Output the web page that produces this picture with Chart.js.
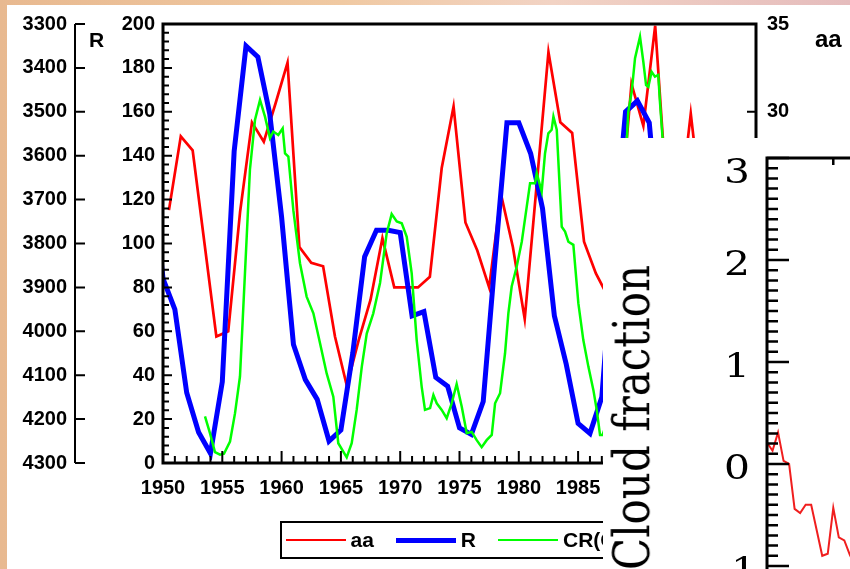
<!DOCTYPE html>
<html>
<head>
<meta charset="utf-8">
<title>aa, R and cosmic rays with cloud fraction</title>
<script src="https://cdn.jsdelivr.net/npm/chart.js"></script>
<style>
  html, body { margin: 0; padding: 0; }
  body {
    width: 850px; height: 569px; overflow: hidden; position: relative;
    background: linear-gradient(90deg, #e8b990 0%, #f0c9a2 40%, #f2d3c4 65%, #e5bcbd 100%);
  }
  #panel { position: absolute; left: 7px; top: 5px; width: 843px; height: 564px; background: #fff; }
  #main { position: absolute; left: 0; top: 0; }
  .title { position: absolute; font-family: "Liberation Sans", Arial, sans-serif; font-weight: bold; color: #000; white-space: nowrap; }
  #rTitle { left: 82px; top: 24px; font-size: 21px; line-height: 21px; }
  #aaTitle { left: 808px; top: 22px; font-size: 24px; line-height: 24px; }
  #legend {
    position: absolute; left: 273px; top: 516px; width: 356px; height: 34px;
    border: 2.5px solid #000; display: flex; align-items: center; padding-left: 3.5px;
    font: bold 21px "Liberation Sans", Arial, sans-serif; white-space: nowrap;
  }
  #legend .item { display: flex; align-items: center; margin-right: 22px; }
  #legend .swatch { width: 60px; margin-right: 5px; }
  #overlay { position: absolute; left: 603px; top: 138px; width: 247px; height: 431px; background: #fff; overflow: hidden; }
  #cloud { position: absolute; left: 0; top: 0; }
  #cloudTitle {
    position: absolute; left: 4.4px; top: 432px; transform-origin: 0 0;
    transform: rotate(-90deg) scaleY(1.2);
    font: 42px "DejaVu Serif", serif; line-height: 42px; white-space: nowrap; color: #000;
  }
</style>
</head>
<body>
<div id="panel">
  <canvas id="main" width="843" height="564"></canvas>
  <div id="rTitle" class="title">R</div>
  <div id="aaTitle" class="title">aa</div>
  <div id="legend"></div>
</div>
<div id="overlay">
  <canvas id="cloud" width="407" height="482"></canvas>
  <div id="cloudTitle">Cloud fraction</div>
</div>
<script>
// sunspot number R, yearly
const rYears = [1949, 1950, 1951, 1952, 1953, 1954, 1955, 1956, 1957, 1958, 1959, 1960, 1961, 1962, 1963, 1964, 1965, 1966, 1967, 1968, 1969, 1970,
  1971, 1972, 1973, 1974, 1975, 1976, 1977, 1978, 1979, 1980, 1981, 1982, 1983, 1984, 1985, 1986, 1987, 1988, 1989, 1990, 1991, 1992];
const rValues = [135, 84, 70, 32, 14, 4.4, 37, 142, 190, 185, 159, 112, 54, 38, 29, 10, 15, 50, 94, 106, 106, 105,
  67, 69, 39, 35, 16, 13, 28, 93, 155, 155, 141, 116, 67, 45, 18, 13.5, 30, 100, 160, 165, 155, 95];

// geomagnetic aa index, yearly (plotted mid-year)
const aaYears = [1950.5, 1951.5, 1952.5, 1953.5, 1954.5, 1955.5, 1956.5, 1957.5, 1958.5, 1959.5, 1960.5, 1961.5, 1962.5, 1963.5, 1964.5, 1965.5,
  1966.5, 1967.5, 1968.5, 1969.5, 1970.5, 1971.5, 1972.5, 1973.5, 1974.5, 1975.5, 1976.5, 1977.5, 1978.5, 1979.5, 1980.5, 1981.5,
  1982.5, 1983.5, 1984.5, 1985.5, 1986.5, 1987.5, 1988.5, 1989.5, 1990.5, 1991.5, 1992.5, 1993.5, 1994.5, 1995.5];
const aaValues = [24.4, 28.6, 27.8, 22.5, 17.2, 17.5, 24.3, 29.4, 28.3, 30.5, 32.8, 22.3, 21.4, 21.2, 17.2, 14.4,
  17.0, 19.3, 22.8, 20.0, 20.0, 20.0, 20.6, 26.8, 30.3, 23.7, 22.1, 20.0, 25.3, 22.3, 18.2, 25.8,
  33.4, 29.4, 28.8, 22.6, 20.8, 19.5, 23.6, 31.6, 29.2, 34.9, 25.0, 24.0, 29.9, 24.0];

// cosmic ray counts (Climax), reversed axis
const crYears = [1953.54, 1953.96, 1954.38, 1954.81, 1955.14, 1955.65, 1956.07, 1956.49,
  1956.91, 1957.33, 1957.76, 1958.18, 1958.60, 1959.02, 1959.30, 1959.72, 1960.09, 1960.29, 1960.57, 1960.99,
  1961.55, 1962.11, 1962.68, 1963.24, 1963.80, 1964.36, 1964.78, 1965.49, 1965.91, 1966.33, 1966.76, 1967.18, 1967.73, 1968.30,
  1968.86, 1969.28, 1969.71, 1970.13, 1970.55, 1970.97, 1971.39, 1971.81, 1972.09, 1972.52, 1972.80, 1973.08, 1973.50, 1973.92, 1974.34, 1974.76,
  1975.19, 1975.61, 1976.03, 1976.45, 1976.87, 1977.29, 1977.72, 1978.00, 1978.42, 1978.84, 1979.12, 1979.40, 1979.82,
  1980.25, 1980.67, 1980.95, 1981.37, 1981.51, 1981.93, 1982.21, 1982.49, 1982.77, 1982.92, 1983.20, 1983.62, 1983.90,
  1984.18, 1984.60, 1985.02, 1985.44, 1985.87, 1986.29, 1986.57, 1986.85, 1987.07,
  1987.5, 1988.0, 1988.5, 1989.0, 1989.23, 1989.52, 1989.80, 1990.22, 1990.50, 1990.73, 1990.92, 1991.20, 1991.48, 1991.76, 1991.90, 1992.13, 1992.5];
const crValues = [4194, 4232, 4275, 4281, 4279, 4251, 4187, 4103,
  3868, 3632, 3518, 3473, 3511, 3560, 3545, 3553, 3538, 3595, 3602, 3724,
  3845, 3921, 3959, 4027, 4096, 4149, 4255, 4287, 4255, 4179, 4081, 4005, 3959, 3890,
  3777, 3733, 3750, 3754, 3785, 3868, 4020, 4126, 4179, 4175, 4145, 4164, 4179, 4198, 4164, 4120,
  4172, 4232, 4229, 4248, 4264, 4248, 4236, 4164, 4141, 4050, 3959, 3898, 3853,
  3796, 3716, 3663, 3663, 3640, 3682, 3595, 3549, 3541, 3511, 3541, 3762, 3773,
  3796, 3803, 3936, 4020, 4081, 4134, 4179, 4236, 4236,
  4200, 4050, 3850, 3620, 3500, 3454, 3378, 3329, 3386, 3439, 3443, 3409, 3420, 3416, 3477, 3562, 3700];

// cloud fraction anomaly, monthly (month index from start of record)
const cloudMonths = [0, 1, 2, 3, 4, 5, 6, 7, 8, 9, 10, 11, 12, 13, 14, 15, 16];
const cloudValues = [0.21, 0.13, 0.31, 0.03, 0.00, -0.44, -0.48, -0.40, -0.40, -0.65, -0.90, -0.88, -0.43, -0.72, -0.75, -0.89, -1.0];

const seriesNames = ['aa', 'R', 'CR(Climax)'];
const seriesColors = ['#ff0000', '#0000ff', '#00ff00'];
const seriesWidths = [2.7, 5, 2.5];

const toPoints = (xs, ys) => xs.map((x, i) => ({ x: x, y: ys[i] }));
const labelFont = { family: '"Liberation Sans", Arial, sans-serif', size: 20, weight: 'bold' };
const plain = v => String(v);
// fixed axis box sizes so the plot area lands where the original has it
const fixWidth = w => s => { s.width = w; s.paddingTop = 0; s.paddingBottom = 0; };

const frameAndTicks = {
  id: 'frameAndTicks',
  afterDraw(chart) {
    const { ctx, chartArea: a, scales } = chart;
    const x = scales.x, yR = scales.yR, yAA = scales.yAA, yCR = scales.yCR;
    ctx.save();
    ctx.strokeStyle = '#000';
    ctx.lineWidth = 3;
    ctx.strokeRect(a.left, a.top, a.right - a.left, a.bottom - a.top);
    ctx.lineWidth = 2;
    ctx.beginPath();
    for (let yr = x.min; yr <= x.max; yr++) {
      const px = x.getPixelForValue(yr);
      ctx.moveTo(px, a.bottom);
      ctx.lineTo(px, a.bottom - (yr % 5 === 0 ? 12 : 7));
    }
    for (let v = yR.min; v <= yR.max; v += 4) {
      const py = yR.getPixelForValue(v);
      ctx.moveTo(a.left, py);
      ctx.lineTo(a.left + (v % 20 === 0 ? 9 : 6), py);
    }
    for (let v = yAA.min; v <= yAA.max; v += 5) {
      const py = yAA.getPixelForValue(v);
      ctx.moveTo(a.right, py);
      ctx.lineTo(a.right - 9, py);
    }
    const cx = yCR.right - 8;
    ctx.moveTo(cx, yCR.getPixelForValue(yCR.min));
    ctx.lineTo(cx, yCR.getPixelForValue(yCR.max));
    for (let v = yCR.min; v <= yCR.max; v += 100) {
      const py = yCR.getPixelForValue(v);
      ctx.moveTo(cx, py);
      ctx.lineTo(cx + 10, py);
    }
    ctx.stroke();
    ctx.restore();
  }
};

new Chart(document.getElementById('main'), {
  type: 'line',
  data: {
    datasets: [
      { label: seriesNames[0], data: toPoints(aaYears, aaValues), yAxisID: 'yAA', order: 3,
        borderColor: seriesColors[0], borderWidth: seriesWidths[0], pointRadius: 0, tension: 0 },
      { label: seriesNames[1], data: toPoints(rYears, rValues), yAxisID: 'yR', order: 2,
        borderColor: seriesColors[1], borderWidth: seriesWidths[1], pointRadius: 0, tension: 0 },
      { label: seriesNames[2], data: toPoints(crYears, crValues), yAxisID: 'yCR', order: 1,
        borderColor: seriesColors[2], borderWidth: seriesWidths[2], pointRadius: 0, tension: 0 }
    ]
  },
  options: {
    responsive: false,
    animation: false,
    layout: { padding: { top: 19, bottom: 66, left: 0, right: 0 } },
    plugins: { legend: { display: false }, tooltip: { enabled: false } },
    scales: {
      x: {
        type: 'linear', position: 'bottom', min: 1950, max: 2000,
        grid: { display: false, drawTicks: false }, border: { display: false },
        ticks: { stepSize: 5, autoSkip: false, maxRotation: 0, padding: 13, color: '#000', font: labelFont, callback: plain },
        afterFit: s => { s.height = 40; s.paddingLeft = 0; s.paddingRight = 0; }
      },
      yR: {
        type: 'linear', position: 'left', weight: 0, min: 0, max: 200,
        grid: { display: false, drawTicks: false }, border: { display: false },
        ticks: { stepSize: 20, padding: 8, color: '#000', font: labelFont, callback: plain },
        afterFit: fixWidth(80)
      },
      yCR: {
        type: 'linear', position: 'left', weight: 1, min: 3300, max: 4300, reverse: true,
        grid: { display: false, drawTicks: false }, border: { display: false },
        ticks: { stepSize: 100, padding: 16, color: '#000', font: labelFont, callback: plain },
        afterFit: fixWidth(76)
      },
      yAA: {
        type: 'linear', position: 'right', min: 10, max: 35,
        grid: { display: false, drawTicks: false }, border: { display: false },
        ticks: { stepSize: 5, padding: 11, color: '#000', font: labelFont, callback: plain },
        afterFit: fixWidth(94)
      }
    }
  },
  plugins: [frameAndTicks]
});

// legend box below the plot
const legend = document.getElementById('legend');
seriesNames.forEach((name, i) => {
  const item = document.createElement('div');
  item.className = 'item';
  const sw = document.createElement('span');
  sw.className = 'swatch';
  sw.style.height = seriesWidths[i] + 'px';
  sw.style.background = seriesColors[i];
  const txt = document.createElement('span');
  txt.textContent = name;
  item.appendChild(sw);
  item.appendChild(txt);
  legend.appendChild(item);
});

const cloudFrame = {
  id: 'cloudFrame',
  afterDraw(chart) {
    const { ctx, chartArea: a } = chart;
    const x = chart.scales.x, y = chart.scales.y;
    ctx.save();
    ctx.strokeStyle = '#000';
    ctx.lineWidth = 3;
    ctx.beginPath();
    ctx.moveTo(a.left, a.bottom);
    ctx.lineTo(a.left, a.top);
    ctx.lineTo(a.right, a.top);
    ctx.stroke();
    ctx.lineWidth = 2.5;
    ctx.beginPath();
    for (let k = Math.ceil(y.min * 10); k <= Math.floor(y.max * 10); k++) {
      const py = y.getPixelForValue(k / 10);
      ctx.moveTo(a.left, py);
      ctx.lineTo(a.left + (k % 10 === 0 ? 22 : 11), py);
    }
    for (let m = x.min + 12; m <= x.max; m += 12) {
      const px = x.getPixelForValue(m);
      ctx.moveTo(px, a.top);
      ctx.lineTo(px, a.top + 7);
    }
    ctx.stroke();
    ctx.fillStyle = '#000';
    ctx.font = '34px "DejaVu Serif", serif';
    ctx.textAlign = 'center';
    ctx.textBaseline = 'middle';
    y.ticks.filter(t => Number.isInteger(t.value)).forEach(t => {
      const py = Math.max(y.getPixelForValue(t.value) + 6, a.top + 16);
      ctx.save();
      ctx.translate(a.left - 30, py);
      ctx.scale(1.2, 1);
      ctx.fillText(String(t.value), 0, 0);
      ctx.restore();
    });
    ctx.restore();
  }
};

new Chart(document.getElementById('cloud'), {
  type: 'line',
  data: {
    datasets: [{ label: 'Cloud fraction', data: toPoints(cloudMonths, cloudValues),
      borderColor: '#f01e1e', borderWidth: 2, pointRadius: 0, tension: 0 }]
  },
  options: {
    responsive: false,
    animation: false,
    layout: { padding: { top: 20, bottom: 3, left: 0, right: 0 } },
    plugins: { legend: { display: false }, tooltip: { enabled: false } },
    scales: {
      x: { type: 'linear', min: 0, max: 44, display: false },
      y: {
        type: 'linear', position: 'left', min: -1.5, max: 3,
        grid: { display: false, drawTicks: false }, border: { display: false },
        ticks: { stepSize: 1, display: false },
        afterFit: s => { s.width = 164; s.paddingTop = 0; s.paddingBottom = 0; }
      }
    }
  },
  plugins: [cloudFrame]
});
</script>
</body>
</html>
